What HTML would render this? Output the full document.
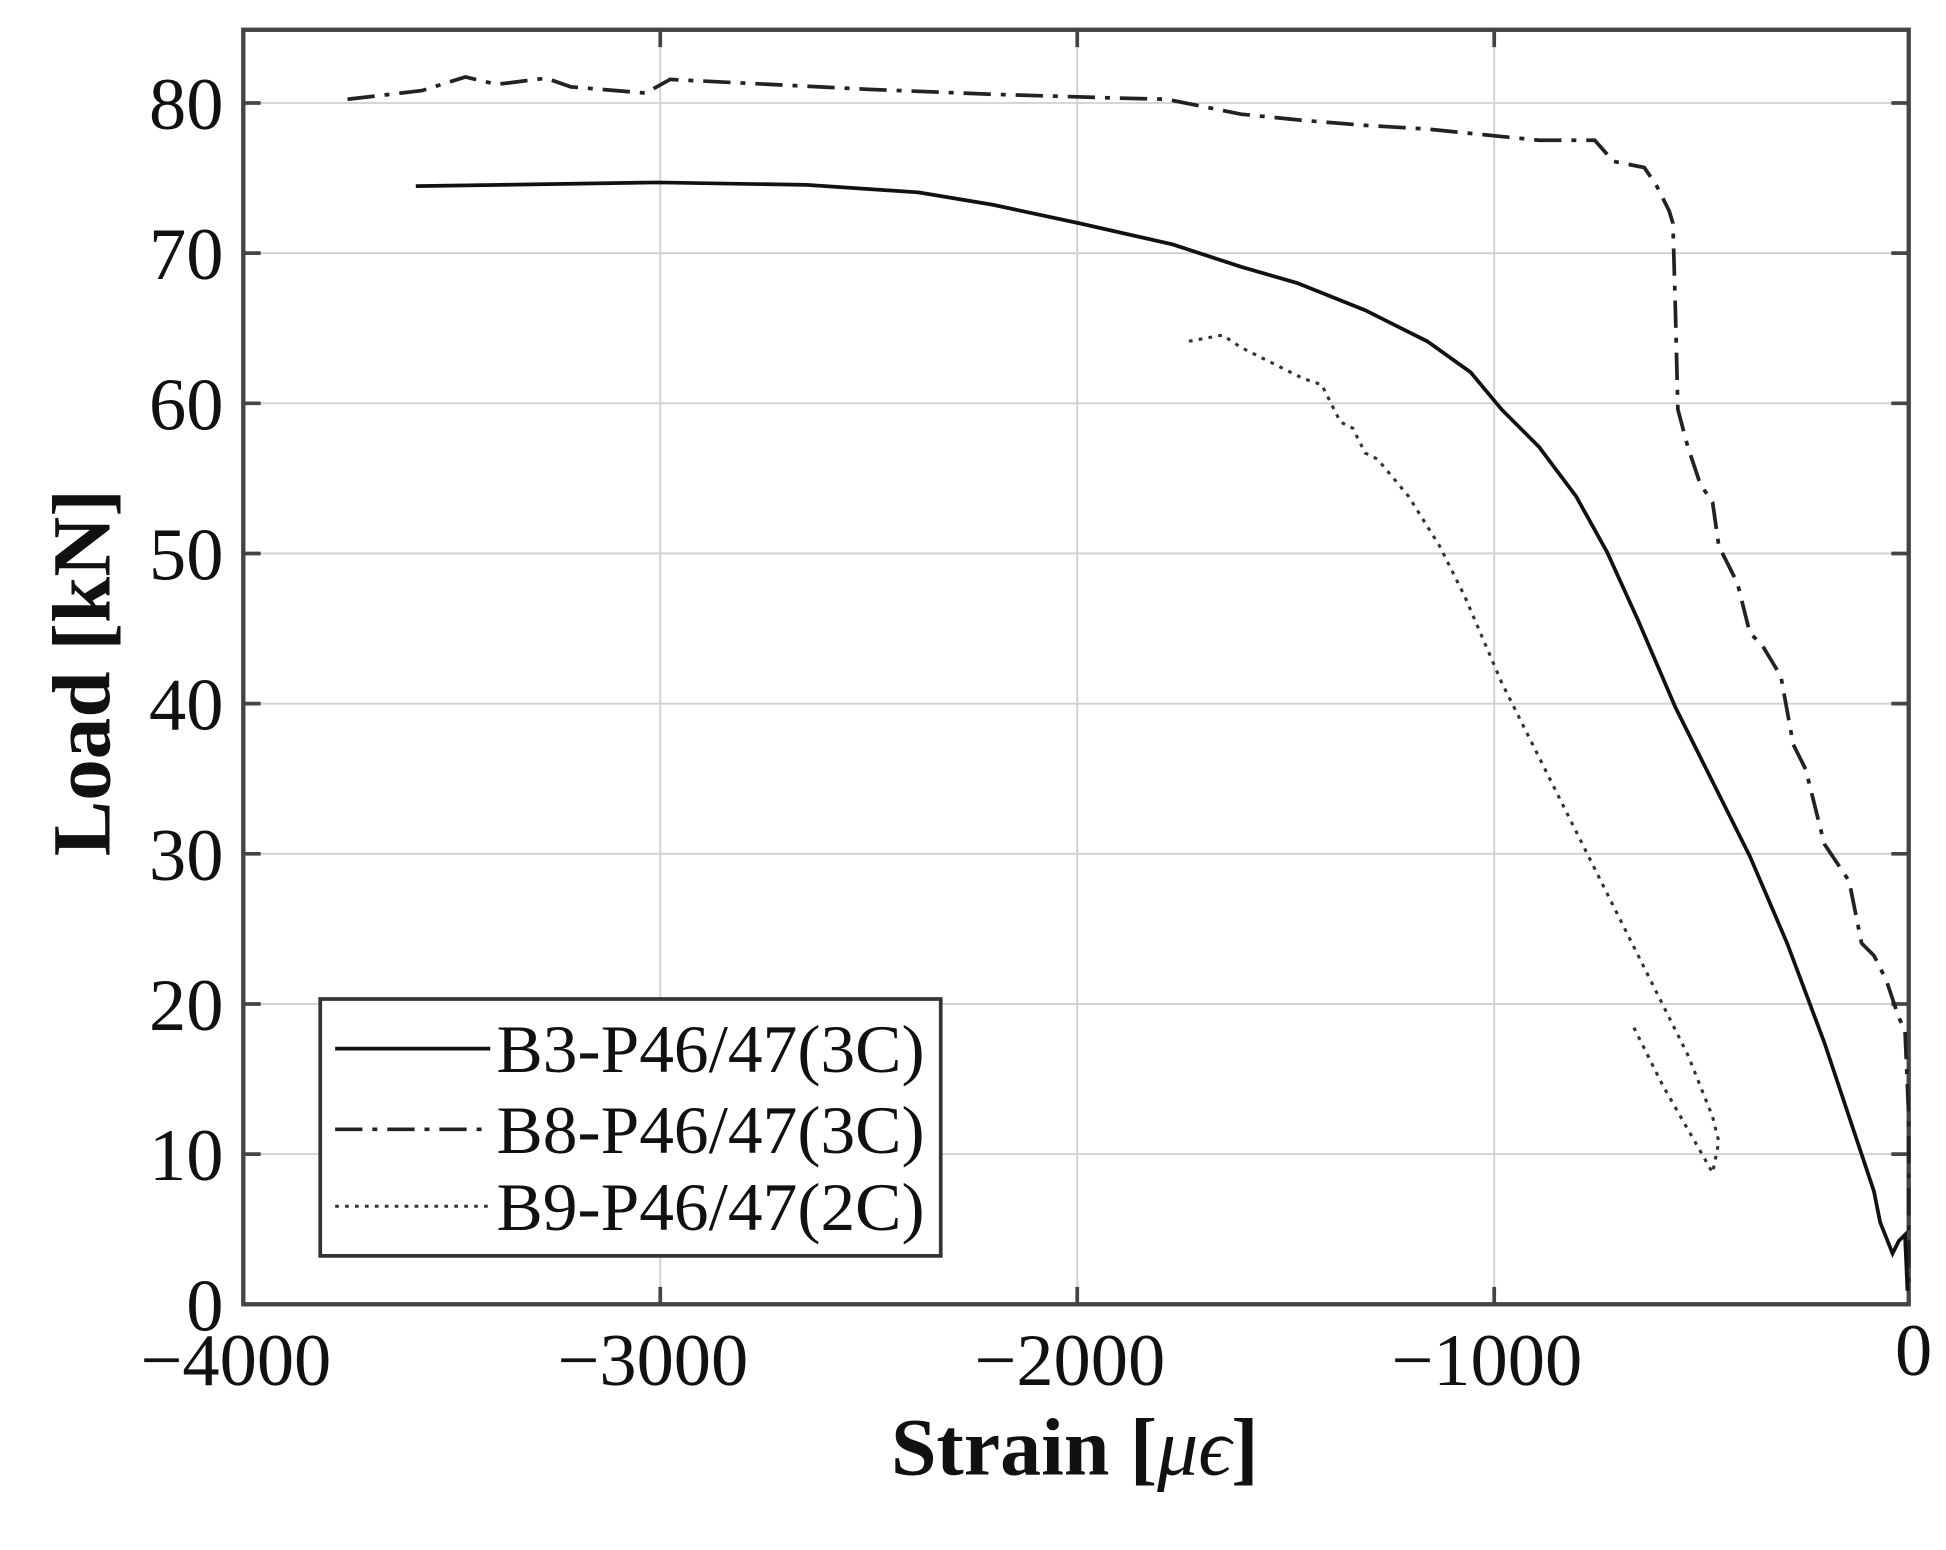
<!DOCTYPE html>
<html><head><style>html,body{margin:0;padding:0;background:#fff;}svg{display:block}</style></head>
<body>
<svg width="1946" height="1550" viewBox="0 0 1568 1249" xmlns="http://www.w3.org/2000/svg" font-family="Liberation Serif, serif">
<rect width="1568" height="1249" fill="#fff"/>
<g stroke="#d0d0d0" stroke-width="1.5">
<line x1="532" y1="24" x2="532" y2="1051"/><line x1="868" y1="24" x2="868" y2="1051"/><line x1="1204" y1="24" x2="1204" y2="1051"/>
<line x1="196" y1="83" x2="1538" y2="83"/><line x1="196" y1="204" x2="1538" y2="204"/><line x1="196" y1="325" x2="1538" y2="325"/><line x1="196" y1="446" x2="1538" y2="446"/><line x1="196" y1="567" x2="1538" y2="567"/><line x1="196" y1="688" x2="1538" y2="688"/><line x1="196" y1="809" x2="1538" y2="809"/><line x1="196" y1="930" x2="1538" y2="930"/>
</g>
<g stroke="#444" stroke-width="3">
<line x1="196" y1="83" x2="210" y2="83"/><line x1="196" y1="204" x2="210" y2="204"/><line x1="196" y1="325" x2="210" y2="325"/><line x1="196" y1="446" x2="210" y2="446"/><line x1="196" y1="567" x2="210" y2="567"/><line x1="196" y1="688" x2="210" y2="688"/><line x1="196" y1="809" x2="210" y2="809"/><line x1="196" y1="930" x2="210" y2="930"/>
<line x1="1524" y1="83" x2="1538" y2="83"/><line x1="1524" y1="204" x2="1538" y2="204"/><line x1="1524" y1="325" x2="1538" y2="325"/><line x1="1524" y1="446" x2="1538" y2="446"/><line x1="1524" y1="567" x2="1538" y2="567"/><line x1="1524" y1="688" x2="1538" y2="688"/><line x1="1524" y1="809" x2="1538" y2="809"/><line x1="1524" y1="930" x2="1538" y2="930"/>
<line x1="532" y1="1051" x2="532" y2="1037"/><line x1="868" y1="1051" x2="868" y2="1037"/><line x1="1204" y1="1051" x2="1204" y2="1037"/>
<line x1="532" y1="24" x2="532" y2="38"/><line x1="868" y1="24" x2="868" y2="38"/><line x1="1204" y1="24" x2="1204" y2="38"/>
</g>
<rect x="196" y="24" width="1342" height="1027" fill="none" stroke="#444" stroke-width="3.5"/>
<polyline fill="none" stroke="#222" stroke-width="3" stroke-dasharray="22,8,4,8" points="280,80 340,73 375,62 400,68 440,63 460,70 520,75 540,64 600,67 700,72 800,76 900,79 940,80 1000,92 1050,97 1100,101 1150,104 1200,109 1240,113 1285,113 1300,130 1325,135 1335,150 1345,170 1348,180 1350,250 1352,330 1360,360 1370,390 1380,405 1385,440 1395,460 1400,470 1410,510 1420,520 1435,545 1445,600 1455,620 1470,680 1490,710 1500,760 1510,770 1520,790 1530,820 1535,830 1538,900 1538,1040"/>
<polyline fill="none" stroke="#111" stroke-width="3" points="335,150 530,147 650,149 740,155 800,165 870,180 945,197 1000,215 1045,228 1100,250 1150,275 1185,300 1210,330 1240,360 1270,400 1295,445 1320,500 1350,570 1380,630 1410,690 1440,760 1470,840 1500,930 1510,960 1515,985 1525,1010 1530,1000 1535,995 1537,1040"/>
<polyline fill="none" stroke="#333" stroke-width="2.5" stroke-dasharray="3,5" points="958,275 985,270 1000,280 1030,295 1050,305 1065,310 1080,340 1090,345 1100,365 1110,370 1135,400 1160,440 1180,480 1210,550 1240,610 1270,670 1300,730 1330,790 1360,850 1380,900 1385,920 1380,945 1360,910 1340,875 1315,825"/>
<rect x="258" y="805" width="500" height="207" fill="#fff" stroke="#333" stroke-width="3"/>
<line x1="270" y1="845" x2="395" y2="845" stroke="#111" stroke-width="3"/>
<line x1="270" y1="910" x2="395" y2="910" stroke="#222" stroke-width="3" stroke-dasharray="22,8,4,8"/>
<line x1="270" y1="972" x2="395" y2="972" stroke="#333" stroke-width="2.5" stroke-dasharray="3,5"/>
<g font-size="55" fill="#111">
<text x="400" y="864" textLength="345" lengthAdjust="spacingAndGlyphs">B3-P46/47(3C)</text>
<text x="400" y="929" textLength="345" lengthAdjust="spacingAndGlyphs">B8-P46/47(3C)</text>
<text x="400" y="991" textLength="345" lengthAdjust="spacingAndGlyphs">B9-P46/47(2C)</text>
</g>
<g font-size="60" fill="#111" text-anchor="end">
<text x="180" y="104">80</text><text x="180" y="225">70</text><text x="180" y="346">60</text><text x="180" y="467">50</text><text x="180" y="588">40</text><text x="180" y="709">30</text><text x="180" y="830">20</text><text x="180" y="951">10</text><text x="180" y="1072">0</text>
</g>
<g font-size="60" fill="#111" text-anchor="middle">
<text x="190" y="1116">−4000</text><text x="526" y="1116">−3000</text><text x="862" y="1116">−2000</text><text x="1198" y="1116">−1000</text><text x="1542" y="1108">0</text>
</g>
<text x="866" y="1188" font-size="66" font-weight="bold" text-anchor="middle" fill="#111">Strain [<tspan font-style="italic" font-weight="normal">μϵ</tspan>]</text>
<text transform="translate(88,542) rotate(-90)" font-size="67" font-weight="bold" text-anchor="middle" fill="#111">Load [kN]</text>
</svg>
</body></html>
